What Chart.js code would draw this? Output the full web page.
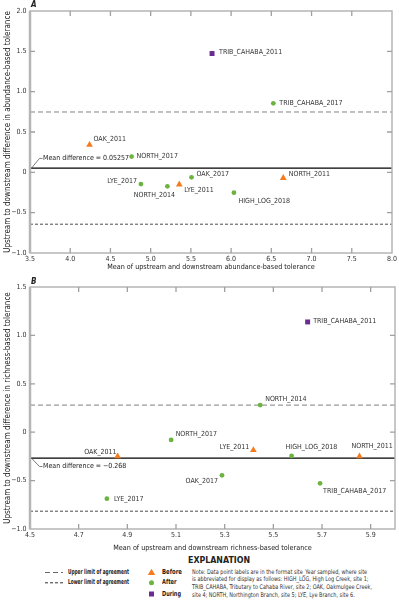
<!DOCTYPE html>
<html>
<head>
<meta charset="utf-8">
<script src="https://cdn.jsdelivr.net/npm/chart.js@4.4.1/dist/chart.umd.min.js"></script>
<style>
  body { margin: 0; background: #fff; width: 399px; height: 602px; position: relative; overflow: hidden;
         font-family: 'Liberation Sans Narrow', 'DejaVu Sans Condensed', 'Roboto Condensed', sans-serif; color: #222; }
  canvas { position: absolute; left: 0; }
  #chartA { top: 0; }
  #chartB { top: 276px; }
  .t { position: absolute; white-space: nowrap; line-height: 1; transform-origin: 0 50%; }
  .panel { font-weight: bold; font-style: italic; font-size: 8px; }
  .bold { font-weight: bold; font-size: 7px; }
  .note { font-size: 6.4px; color: #333; line-height: 7.7px; }
</style>
</head>
<body>
<canvas id="chartA" width="399" height="276"></canvas>
<canvas id="chartB" width="399" height="278"></canvas>

<div class="t panel" style="left:31px;top:1px">A</div>
<div class="t panel" style="left:31px;top:278px">B</div>

<div class="t" data-w="62" style="left:188px;top:556px;font-weight:bold;font-size:8.5px">EXPLANATION</div>

<svg class="t" style="left:44px;top:569px" width="20" height="18">
  <line x1="1" y1="3.5" x2="19" y2="3.5" stroke="#666" stroke-width="1" stroke-dasharray="5,3"/>
  <line x1="1" y1="13.8" x2="19" y2="13.8" stroke="#333" stroke-width="1" stroke-dasharray="3,2"/>
</svg>
<div class="t bold" data-w="61" style="left:68px;top:568.5px">Upper limit of agreement</div>
<div class="t bold" data-w="61" style="left:68px;top:579px">Lower limit of agreement</div>

<svg class="t" style="left:147px;top:568px" width="10" height="30">
  <polygon points="4.5,0.8 8.2,7 0.8,7" fill="#F47B20"/>
  <circle cx="4.5" cy="14.8" r="2.5" fill="#6DB33F"/>
  <rect x="2" y="23.5" width="5" height="5" fill="#6A2C91"/>
</svg>
<div class="t bold" data-w="20" style="left:162px;top:568.5px">Before</div>
<div class="t bold" data-w="14.5" style="left:162px;top:579px">After</div>
<div class="t bold" data-w="19" style="left:162px;top:590.5px">During</div>

<div class="t note" data-w="180" style="left:192px;top:568.5px">
Note: Data point labels are in the format site_Year sampled, where site<br>
is abbreviated for display as follows: HIGH_LOG, High Log Creek, site 1;<br>
TRIB_CAHABA, Tributary to Cahaba River, site 2; OAK, Oakmulgee Creek,<br>
site 4; NORTH, Northington Branch, site 5; LYE, Lye Branch, site 6.</div>

<script>
// panel A: abundance-based tolerance
const labelsA = ['TRIB_CAHABA_2011', 'TRIB_CAHABA_2017', 'OAK_2011', 'NORTH_2017', 'LYE_2017',
                 'NORTH_2014', 'LYE_2011', 'OAK_2017', 'NORTH_2011', 'HIGH_LOG_2018'];
const groupsA = ['During', 'After', 'Before', 'After', 'After', 'After', 'Before', 'After', 'Before', 'After'];
const meanA = [5.763, 6.525, 4.24, 4.763, 4.879, 5.208, 5.356, 5.508, 6.648, 6.035];
const diffA = [1.473, 0.856, 0.34, 0.195, -0.145, -0.174, -0.15, -0.062, -0.07, -0.252];
const meanDiffA = 0.05257;
const upperA = 0.748;
const lowerA = -0.643;
const xTicksA = [3.5, 4.0, 4.5, 5.0, 5.5, 6.0, 6.5, 7.0, 7.5, 8.0];
const yTicksA = [-1.0, -0.5, 0, 0.5, 1.0, 1.5, 2.0];

// panel B: richness-based tolerance
const labelsB = ['TRIB_CAHABA_2011', 'NORTH_2014', 'NORTH_2017', 'OAK_2011', 'LYE_2017',
                 'OAK_2017', 'LYE_2011', 'HIGH_LOG_2018', 'NORTH_2011', 'TRIB_CAHABA_2017'];
const groupsB = ['During', 'After', 'After', 'Before', 'After', 'After', 'Before', 'After', 'Before', 'After'];
const meanB = [5.641, 5.446, 5.080, 4.86, 4.816, 5.289, 5.418, 5.575, 5.854, 5.692];
const diffB = [1.139, 0.28, -0.08, -0.25, -0.687, -0.445, -0.185, -0.245, -0.25, -0.528];
const meanDiffB = -0.268;
const upperB = 0.28;
const lowerB = -0.816;
const xTicksB = [4.5, 4.7, 4.9, 5.1, 5.3, 5.5, 5.7, 5.9];
const yTicksB = [-1.0, -0.5, 0, 0.5, 1.0, 1.5];

// where each point label sits relative to its marker: [dx, dy, align]
const placeA = [[7, -1, 'left'], [6, 0, 'left'], [4, -5.5, 'left'], [5, -0.5, 'left'], [-4, -2.5, 'right'],
                [-13, 8.5, 'center'], [5, 6, 'left'], [5, -3.5, 'left'], [5.5, -3.5, 'left'], [4.5, 8.5, 'left']];
const placeB = [[5.5, -0.5, 'left'], [5, -6, 'left'], [4.5, -5.7, 'left'], [-1, -4.5, 'right'], [7, 0.3, 'left'],
                [-4, 5.5, 'right'], [-4, -2.7, 'right'], [-6, -8.7, 'left'], [-8, -10, 'left'], [3, 7.7, 'left']];

const FONT = "'Liberation Sans Narrow', 'DejaVu Sans Condensed', 'Roboto Condensed', sans-serif";
Chart.defaults.font.family = FONT;

const groupStyle = {
    Before: { pointStyle: 'triangle', color: '#F47B20', radius: 3.9 },
    After: { pointStyle: 'circle', color: '#6DB33F', radius: 2.4 },
    During: { pointStyle: 'rect', color: '#6A2C91', radius: 3.5 }
};

function fmt(v) {
    if (Math.abs(v) < 1e-9) return '0';
    return (v < 0 ? '\u2212' : '') + Math.abs(v).toFixed(1);
}

function pointSets(groups, xs, ys) {
    return Object.keys(groupStyle).map(g => ({
        label: g,
        type: 'scatter',
        order: 1,
        data: xs.map((x, i) => ({ x: x, y: ys[i], i: i })).filter(p => groups[p.i] === g),
        pointStyle: groupStyle[g].pointStyle,
        pointRadius: groupStyle[g].radius,
        backgroundColor: groupStyle[g].color,
        borderColor: groupStyle[g].color,
        borderWidth: 0
    }));
}

function hLine(y, xmin, xmax, color, width, dash) {
    return {
        type: 'line', order: 2,
        data: [{ x: xmin, y: y }, { x: xmax, y: y }],
        borderColor: color, borderWidth: width, borderDash: dash,
        pointRadius: 0, fill: false
    };
}

const decor = {
    id: 'decor',
    afterDatasetsDraw(chart, args, o) {
        const ctx = chart.ctx;
        const a = chart.chartArea;
        const xs = chart.scales.x, ys = chart.scales.y;

        // point labels
        ctx.save();
        ctx.font = '7px ' + FONT;
        ctx.fillStyle = '#333';
        ctx.textBaseline = 'middle';
        chart.data.datasets.forEach((ds, di) => {
            if (ds.type !== 'scatter') return;
            chart.getDatasetMeta(di).data.forEach((el, j) => {
                const idx = ds.data[j].i;
                const p = o.place[idx];
                ctx.textAlign = p[2];
                ctx.fillText(o.labels[idx], el.x + p[0], el.y + p[1]);
            });
        });

        // mean difference note with leader
        const my = ys.getPixelForValue(o.mean);
        const ty = my + o.noteDy;
        ctx.strokeStyle = '#444';
        ctx.lineWidth = 0.7;
        ctx.beginPath();
        ctx.moveTo(a.left + 1.5, my);
        ctx.lineTo(a.left + 9.5, ty);
        ctx.lineTo(a.left + 12.5, ty);
        ctx.stroke();
        ctx.textAlign = 'left';
        ctx.fillStyle = '#222';
        ctx.fillText(o.noteText, a.left + 13, ty);

        // frame
        ctx.strokeStyle = '#b5b5b5';
        ctx.lineWidth = 1.5;
        ctx.strokeRect(a.left, a.top, a.right - a.left, a.bottom - a.top);
        ctx.lineWidth = 2.5;
        ctx.beginPath();
        ctx.moveTo(a.left, a.top);
        ctx.lineTo(a.left, a.bottom);
        ctx.stroke();

        // inward tick marks on all four sides
        ctx.strokeStyle = '#a0a0a0';
        ctx.lineWidth = 1.3;
        ctx.beginPath();
        xs.ticks.forEach(t => {
            const px = xs.getPixelForValue(t.value);
            if (px <= a.left + 1 || px >= a.right - 1) return;
            ctx.moveTo(px, a.bottom); ctx.lineTo(px, a.bottom - 5);
            ctx.moveTo(px, a.top); ctx.lineTo(px, a.top + 5);
        });
        ys.ticks.forEach(t => {
            const py = ys.getPixelForValue(t.value);
            if (py <= a.top + 1 || py >= a.bottom - 1) return;
            ctx.moveTo(a.left, py); ctx.lineTo(a.left + 5, py);
            ctx.moveTo(a.right, py); ctx.lineTo(a.right - 5, py);
        });
        ctx.stroke();
        ctx.restore();
    }
};

function makeChart(id, c) {
    const xmin = c.xTicks[0], xmax = c.xMax;
    return new Chart(document.getElementById(id), {
        data: {
            datasets: pointSets(c.groups, c.xs, c.ys).concat([
                hLine(c.mean, xmin, xmax, '#000', 1.4, []),
                hLine(c.upper, xmin, xmax, '#808080', 1, [5, 3]),
                hLine(c.lower, xmin, xmax, '#4a4a4a', 1, [3, 2])
            ])
        },
        options: {
            responsive: false,
            animation: false,
            layout: { padding: { left: 0, right: 4, top: 11, bottom: 0 } },
            plugins: {
                legend: { display: false },
                tooltip: { enabled: false },
                decor: { labels: c.labels, place: c.place, mean: c.mean, noteText: c.noteText, noteDy: c.noteDy }
            },
            scales: {
                x: {
                    type: 'linear', min: xmin, max: xmax,
                    afterBuildTicks: s => { s.ticks = c.xTicks.map(v => ({ value: v })); },
                    afterFit: s => { s.height = c.xHeight; },
                    grid: { display: false, drawTicks: false },
                    border: { display: false },
                    ticks: { padding: 2, font: { size: 7 }, color: '#333', autoSkip: false, maxRotation: 0, callback: fmt },
                    title: { display: true, text: c.xTitle, font: { size: 7.2 }, color: '#222', padding: { top: 0, bottom: c.xTitlePad } }
                },
                y: {
                    type: 'linear', min: c.yTicks[0], max: c.yTicks[c.yTicks.length - 1],
                    afterBuildTicks: s => { s.ticks = c.yTicks.map(v => ({ value: v })); },
                    afterFit: s => { s.width = 30; },
                    grid: { display: false, drawTicks: false },
                    border: { display: false },
                    ticks: { padding: 3.5, font: { size: 7 }, color: '#333', autoSkip: false, callback: fmt },
                    title: { display: true, text: c.yTitle, font: { size: 8 }, color: '#222', padding: { top: 3.2, bottom: 0 } }
                }
            }
        },
        plugins: [decor]
    });
}

makeChart('chartA', {
    labels: labelsA, groups: groupsA, xs: meanA, ys: diffA, place: placeA,
    mean: meanDiffA, upper: upperA, lower: lowerA,
    xTicks: xTicksA, yTicks: yTicksA, xMax: 8.0, xHeight: 23, xTitlePad: 4.6,
    noteText: 'Mean difference = 0.05257', noteDy: -9.7,
    xTitle: 'Mean of upstream and downstream abundance-based tolerance',
    yTitle: 'Upstream to downstream difference in abundance-based tolerance'
});

makeChart('chartB', {
    labels: labelsB, groups: groupsB, xs: meanB, ys: diffB, place: placeB,
    mean: meanDiffB, upper: upperB, lower: lowerB,
    xTicks: xTicksB, yTicks: yTicksB, xMax: 6.0, xHeight: 25, xTitlePad: 1.6,
    noteText: 'Mean difference = \u22120.268', noteDy: 8.4,
    xTitle: 'Mean of upstream and downstream richness-based tolerance',
    yTitle: 'Upstream to downstream difference in richness-based tolerance'
});

// squeeze the explanation text to the widths in the original
document.querySelectorAll('[data-w]').forEach(el => {
    const w = el.getBoundingClientRect().width;
    el.style.transform = 'scaleX(' + (parseFloat(el.dataset.w) / w) + ')';
});
</script>
</body>
</html>
